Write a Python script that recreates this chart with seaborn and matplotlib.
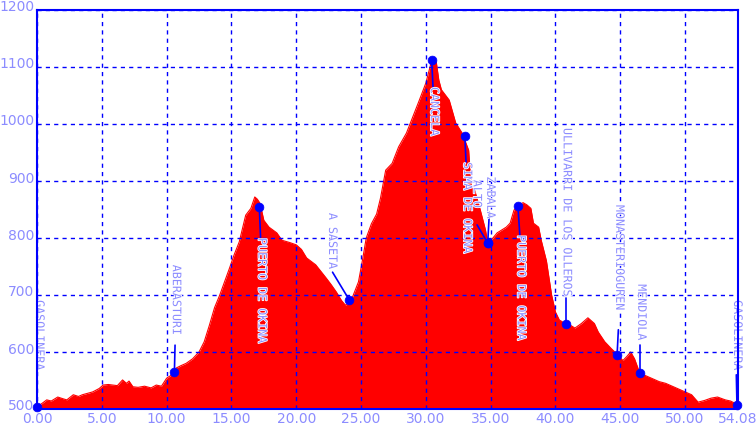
import matplotlib as mpl
mpl.use('agg')
import matplotlib.pyplot as plt
import matplotlib.patheffects as pe
import matplotlib.transforms as mtransforms
import seaborn as sns
import pandas as pd

# elevation profile (km, m)
dist = [0.0, 0.1, 0.4, 0.75, 1.1, 1.6, 2.0, 2.3, 2.8, 3.2, 3.5, 4.0, 4.3, 4.8, 5.1,
        5.5, 5.85, 6.2, 6.6, 6.9, 7.1, 7.4, 7.8, 8.3, 8.8, 9.2, 9.6, 10.0, 10.4,
        10.75, 11.1, 11.5, 12.0, 12.5, 12.9, 13.3, 13.7, 14.1, 14.5, 14.85, 15.2,
        15.6, 16.1, 16.5, 16.8, 17.0, 17.2, 17.5, 17.9, 18.5, 18.9, 19.5, 20.0,
        20.4, 20.8, 21.5, 22.3, 22.7, 23.1, 23.5, 23.8, 24.1, 24.3, 24.8, 25.1,
        25.4, 25.8, 26.2, 26.5, 26.9, 27.4, 27.9, 28.5, 28.9, 29.5, 30.0, 30.4,
        30.6, 30.8, 31.0, 31.2, 31.8, 32.3, 32.8, 33.3, 33.5, 33.7, 34.2, 34.6,
        34.8, 35.1, 35.5, 36.2, 36.5, 36.8, 37.2, 37.5, 37.8, 38.1, 38.3, 38.7,
        38.9, 39.3, 39.7, 40.0, 40.3, 40.6, 41.0, 41.5, 42.0, 42.5, 43.0, 43.3,
        43.8, 44.3, 44.8, 45.2, 45.5, 45.8, 46.1, 46.5, 47.0, 47.5, 48.0, 48.5,
        49.2, 50.0, 50.5, 51.0, 51.5, 52.0, 52.5, 53.1, 53.5, 53.85, 54.08]
elev = [503, 505, 510, 516, 514, 521, 518, 516, 525, 522, 525, 528, 530, 536, 542,
        543, 542, 541, 551, 545, 549, 539, 538, 540, 537, 542, 540, 554, 560,
        572, 576, 580, 588, 600, 618, 647, 678, 700, 725, 747, 770,
        793, 840, 852, 872, 868, 861, 831, 819, 809, 796, 792, 788,
        780, 765, 753, 730, 718, 705, 690, 682, 688, 694, 723, 760,
        800, 825, 842, 870, 919, 931, 960, 984, 1007, 1042, 1072, 1107,
        1112, 1109, 1077, 1060, 1042, 1002, 984, 954, 889, 889, 849, 814,
        788, 798, 809, 819, 826, 849, 858, 862, 858, 852, 826, 819,
        796, 760, 700, 670, 656, 652, 649, 642, 650, 660, 650, 635,
        618, 606, 595, 585, 592, 600, 588, 563, 558, 553, 548, 545,
        538, 530, 525, 512, 515, 519, 521, 516, 514, 510, 505]

# waypoints
wp_names = ['GASOLINERA', 'ABERASTURI', 'PUERTO DE OKINA', 'A SASETA', 'CANCELA',
            'SIMA DE OKINA', 'ALTO', 'ZABALA', 'PUERTO DE OKINA',
            'ULLIVARRI DE LOS OLLEROS', 'MONASTERIOGUREN', 'MENDIOLA', 'GASOLINERA']
wp_km = [0.0, 10.6, 17.15, 24.1, 30.45, 33.0, 34.77, 34.77, 37.1, 40.8, 44.75, 46.55, 54.0]
wp_elev = [504, 565, 854, 691, 1112, 979, 791, 791, 856, 649, 594, 563, 507]

# label layout: text x (km), text top (m), leader start (m)
lab_x = [0.2, 10.75, 17.35, 22.8, 30.65, 33.2, 33.95, 35.0, 37.35, 40.9, 44.95, 46.65, 54.05]
lab_top = [691, 753, 800, 844, 1065, 933, 902, 908, 805, 993, 858, 719, 691]
lead_y = [504, 612, 800, 740, 1065, 933, 823, 845, 805, 695, 639, 612, 560]

blue = '#0000ff'
lav = '#8c8cff'

sns.set_style('white')
fig = plt.figure(figsize=(7.56, 4.30), dpi=100)
ax = fig.add_axes([37 / 756, 21 / 430, 701 / 756, 399 / 430])

df = pd.DataFrame({'km': dist, 'elev': elev})
ax.fill_between(df['km'], 500, df['elev'], color='#ff0000', lw=0, zorder=1)
sns.lineplot(data=df, x='km', y='elev', color='#ff0000', lw=0.8, ax=ax, zorder=1)

ax.set_xlim(0, 54.08)
ax.set_ylim(500, 1200)
ax.set_xticks([0, 5, 10, 15, 20, 25, 30, 35, 40, 45, 50, 54.08])
ax.set_xticklabels(['0.00', '5.00', '10.00', '15.00', '20.00', '25.00', '30.00',
                    '35.00', '40.00', '45.00', '50.00', '54.08'])
ax.set_yticks(range(500, 1201, 100))
ax.set_xlabel('')
ax.set_ylabel('')
ax.tick_params(colors=lav, labelsize=10, length=0, pad=2)
for t in ax.get_xticklabels() + ax.get_yticklabels():
    t.set_color(lav)
off = mtransforms.ScaledTranslation(0, 4 / 100, fig.dpi_scale_trans)
for t in ax.get_yticklabels():
    t.set_transform(t.get_transform() + off)

ax.grid(True, color=blue, ls=(0, (3, 3)), lw=1, zorder=2)
ax.set_axisbelow(False)
for s in ax.spines.values():
    s.set_color(blue)
    s.set_linewidth(1.5)
    s.set_zorder(5)

# waypoint stems and labels
for i, name in enumerate(wp_names):
    ax.plot([lab_x[i] - 0.1 if i not in (3, 6) else lab_x[i], wp_km[i]],
            [lead_y[i], wp_elev[i]], color=blue, lw=1.2, zorder=3, clip_on=False)
    ax.text(lab_x[i], lab_top[i], name, rotation=270, ha='center', va='top',
            rotation_mode='anchor' if False else 'default',
            family='DejaVu Sans Mono', fontsize=8.4, color=lav, zorder=4, clip_on=False,
            path_effects=[pe.withStroke(linewidth=1.2, foreground='white')])

sns.scatterplot(x=wp_km, y=wp_elev, color=blue, s=40, edgecolor=blue, ax=ax,
                zorder=6, clip_on=False)

plt.savefig('out.png', dpi=100)
